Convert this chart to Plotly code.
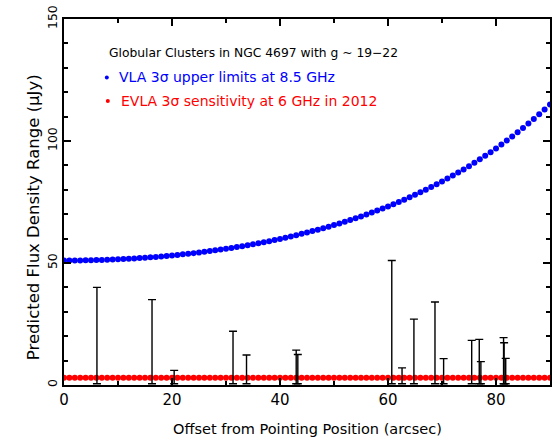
import plotly.graph_objects as go

# ---- data ----
offsets = list(range(0, 91))  # arcsec
vla_upper = [
    51.00, 51.01, 51.02, 51.05, 51.08, 51.13, 51.18, 51.25, 51.33, 51.42,
    51.51, 51.62, 51.74, 51.87, 52.01, 52.16, 52.33, 52.50, 52.69, 52.88,
    53.09, 53.31, 53.54, 53.78, 54.04, 54.30, 54.58, 54.87, 55.18, 55.49,
    55.82, 56.16, 56.52, 56.89, 57.27, 57.67, 58.08, 58.51, 58.95, 59.41,
    59.88, 60.37, 60.88, 61.40, 61.94, 62.49, 63.07, 63.66, 64.27, 64.90,
    65.55, 66.21, 66.90, 67.61, 68.34, 69.09, 69.87, 70.66, 71.48, 72.33,
    73.20, 74.09, 75.01, 75.96, 76.93, 77.94, 78.97, 80.03, 81.12, 82.24,
    83.40, 84.59, 85.81, 87.07, 88.36, 89.69, 91.06, 92.47, 93.92, 95.42,
    96.95, 98.53, 100.16, 101.83, 103.55, 105.32, 107.14, 109.02, 110.95, 112.94,
    114.99,
]
evla_sens = [
    3.0, 3.0, 3.0, 3.0, 3.0, 3.0, 3.0, 3.0, 3.0, 3.0,
    3.0, 3.0, 3.0, 3.0, 3.0, 3.0, 3.0, 3.0, 3.0, 3.0,
    3.0, 3.0, 3.0, 3.0, 3.0, 3.0, 3.0, 3.0, 3.0, 3.0,
    3.0, 3.0, 3.0, 3.0, 3.0, 3.0, 3.0, 3.0, 3.0, 3.0,
    3.0, 3.0, 3.0, 3.0, 3.0, 3.0, 3.0, 3.0, 3.0, 3.0,
    3.0, 3.0, 3.0, 3.0, 3.0, 3.0, 3.0, 3.0, 3.0, 3.0,
    3.0, 3.0, 3.0, 3.0, 3.0, 3.0, 3.0, 3.0, 3.0, 3.0,
    3.0, 3.0, 3.0, 3.0, 3.0, 3.0, 3.0, 3.0, 3.0, 3.0,
    3.0, 3.0, 3.0, 3.0, 3.0, 3.0, 3.0, 3.0, 3.0, 3.0,
    3.0,
]
gc_offset = [6.1, 16.3, 20.4, 31.3, 33.8, 43.0, 43.3, 60.7, 62.6, 64.8,
             68.7, 70.3, 75.5, 76.9, 77.2, 81.4, 81.5, 81.8]
gc_low = [0.5, 0.5, 0.5, 0.5, 0.5, 0.5, 0.5, 0.5, 0.5, 0.5,
          0.5, 0.5, 0.5, 0.5, 0.5, 0.5, 0.5, 0.5]
gc_high = [40.0, 35.0, 6.0, 22.0, 12.3, 14.3, 12.5, 51.0, 7.0, 27.0,
           34.0, 10.8, 18.3, 18.7, 9.6, 19.4, 17.3, 10.9]

title_text = "Globular Clusters in NGC 4697 with g ~ 19\u221222"
vla_label = "VLA 3\u03c3 upper limits at 8.5 GHz"
evla_label = "EVLA 3\u03c3 sensitivity at 6 GHz in 2012"
x_title = "Offset from Pointing Position (arcsec)"
y_title = "Predicted Flux Density Range (\u03bcJy)"

FONT = "DejaVu Sans"

W, H = 555, 439
L, R, T, B = 64, 3, 19, 54
pw, ph = W - L - R, H - T - B


def px_x(px):
    return (px - L) / pw


def px_y(py):
    return 1 - (py - T) / ph


fig = go.Figure()

fig.add_trace(go.Scatter(
    x=offsets, y=vla_upper, mode="markers",
    marker=dict(color="#0000ff", size=6, line=dict(width=0)),
    showlegend=False, hoverinfo="skip"))
fig.add_trace(go.Scatter(
    x=offsets, y=evla_sens, mode="markers",
    marker=dict(color="#ff0000", size=6, line=dict(width=0)),
    showlegend=False, hoverinfo="skip"))

mid = [(lo + hi) / 2 for lo, hi in zip(gc_low, gc_high)]
half = [(hi - lo) / 2 for lo, hi in zip(gc_low, gc_high)]
fig.add_trace(go.Scatter(
    x=gc_offset, y=mid, mode="markers",
    marker=dict(size=0.1, color="rgba(0,0,0,0)"),
    error_y=dict(type="data", array=half, symmetric=True,
                 color="#000000", thickness=1.4, width=4),
    showlegend=False, hoverinfo="skip"))


def add_text(px, py, text, color, size, anchor="left", angle=0):
    fig.add_annotation(x=px_x(px), y=px_y(py), xref="paper", yref="paper",
                       text=text, showarrow=False, xanchor=anchor,
                       yanchor="middle", textangle=angle,
                       font=dict(family=FONT, size=size, color=color))


add_text(107, 53, title_text, "#000000", 12.3)
add_text(117, 77, vla_label, "#0000ff", 14)
add_text(119, 101, evla_label, "#ff0000", 14)
add_text(308, 429, x_title, "#000000", 14.5, anchor="center")
add_text(33, 217, y_title, "#000000", 16.5, anchor="center", angle=-90)

# legend dots
fig.add_shape(type="circle", xref="paper", yref="paper",
              x0=px_x(105), x1=px_x(109), y0=px_y(79.5), y1=px_y(75.5),
              fillcolor="#0000ff", line=dict(width=0))
fig.add_shape(type="circle", xref="paper", yref="paper",
              x0=px_x(106), x1=px_x(110), y0=px_y(103), y1=px_y(99),
              fillcolor="#ff0000", line=dict(width=0))

axis_common = dict(
    showgrid=False, zeroline=False, showline=True, linecolor="#000000",
    linewidth=2, mirror="ticks", ticks="inside", tickcolor="#000000",
    tickwidth=1.5, ticklen=7,
)

fig.update_layout(
    width=W, height=H,
    margin=dict(l=L, r=R, t=T, b=B),
    paper_bgcolor="#ffffff", plot_bgcolor="#ffffff",
    xaxis=dict(range=[0, 90], tick0=0, dtick=20,
               minor=dict(ticks="inside", dtick=10, ticklen=4,
                          tickcolor="#000000", tickwidth=1.5),
               tickfont=dict(family=FONT, size=15, color="#000000"),
               **axis_common),
    yaxis=dict(range=[0, 150], tick0=0, dtick=50, tickangle=-90,
               minor=dict(ticks="inside", dtick=10, ticklen=4,
                          tickcolor="#000000", tickwidth=1.5),
               tickfont=dict(family=FONT, size=12.5, color="#000000"),
               **axis_common),
)

fig.write_html("out.html")
